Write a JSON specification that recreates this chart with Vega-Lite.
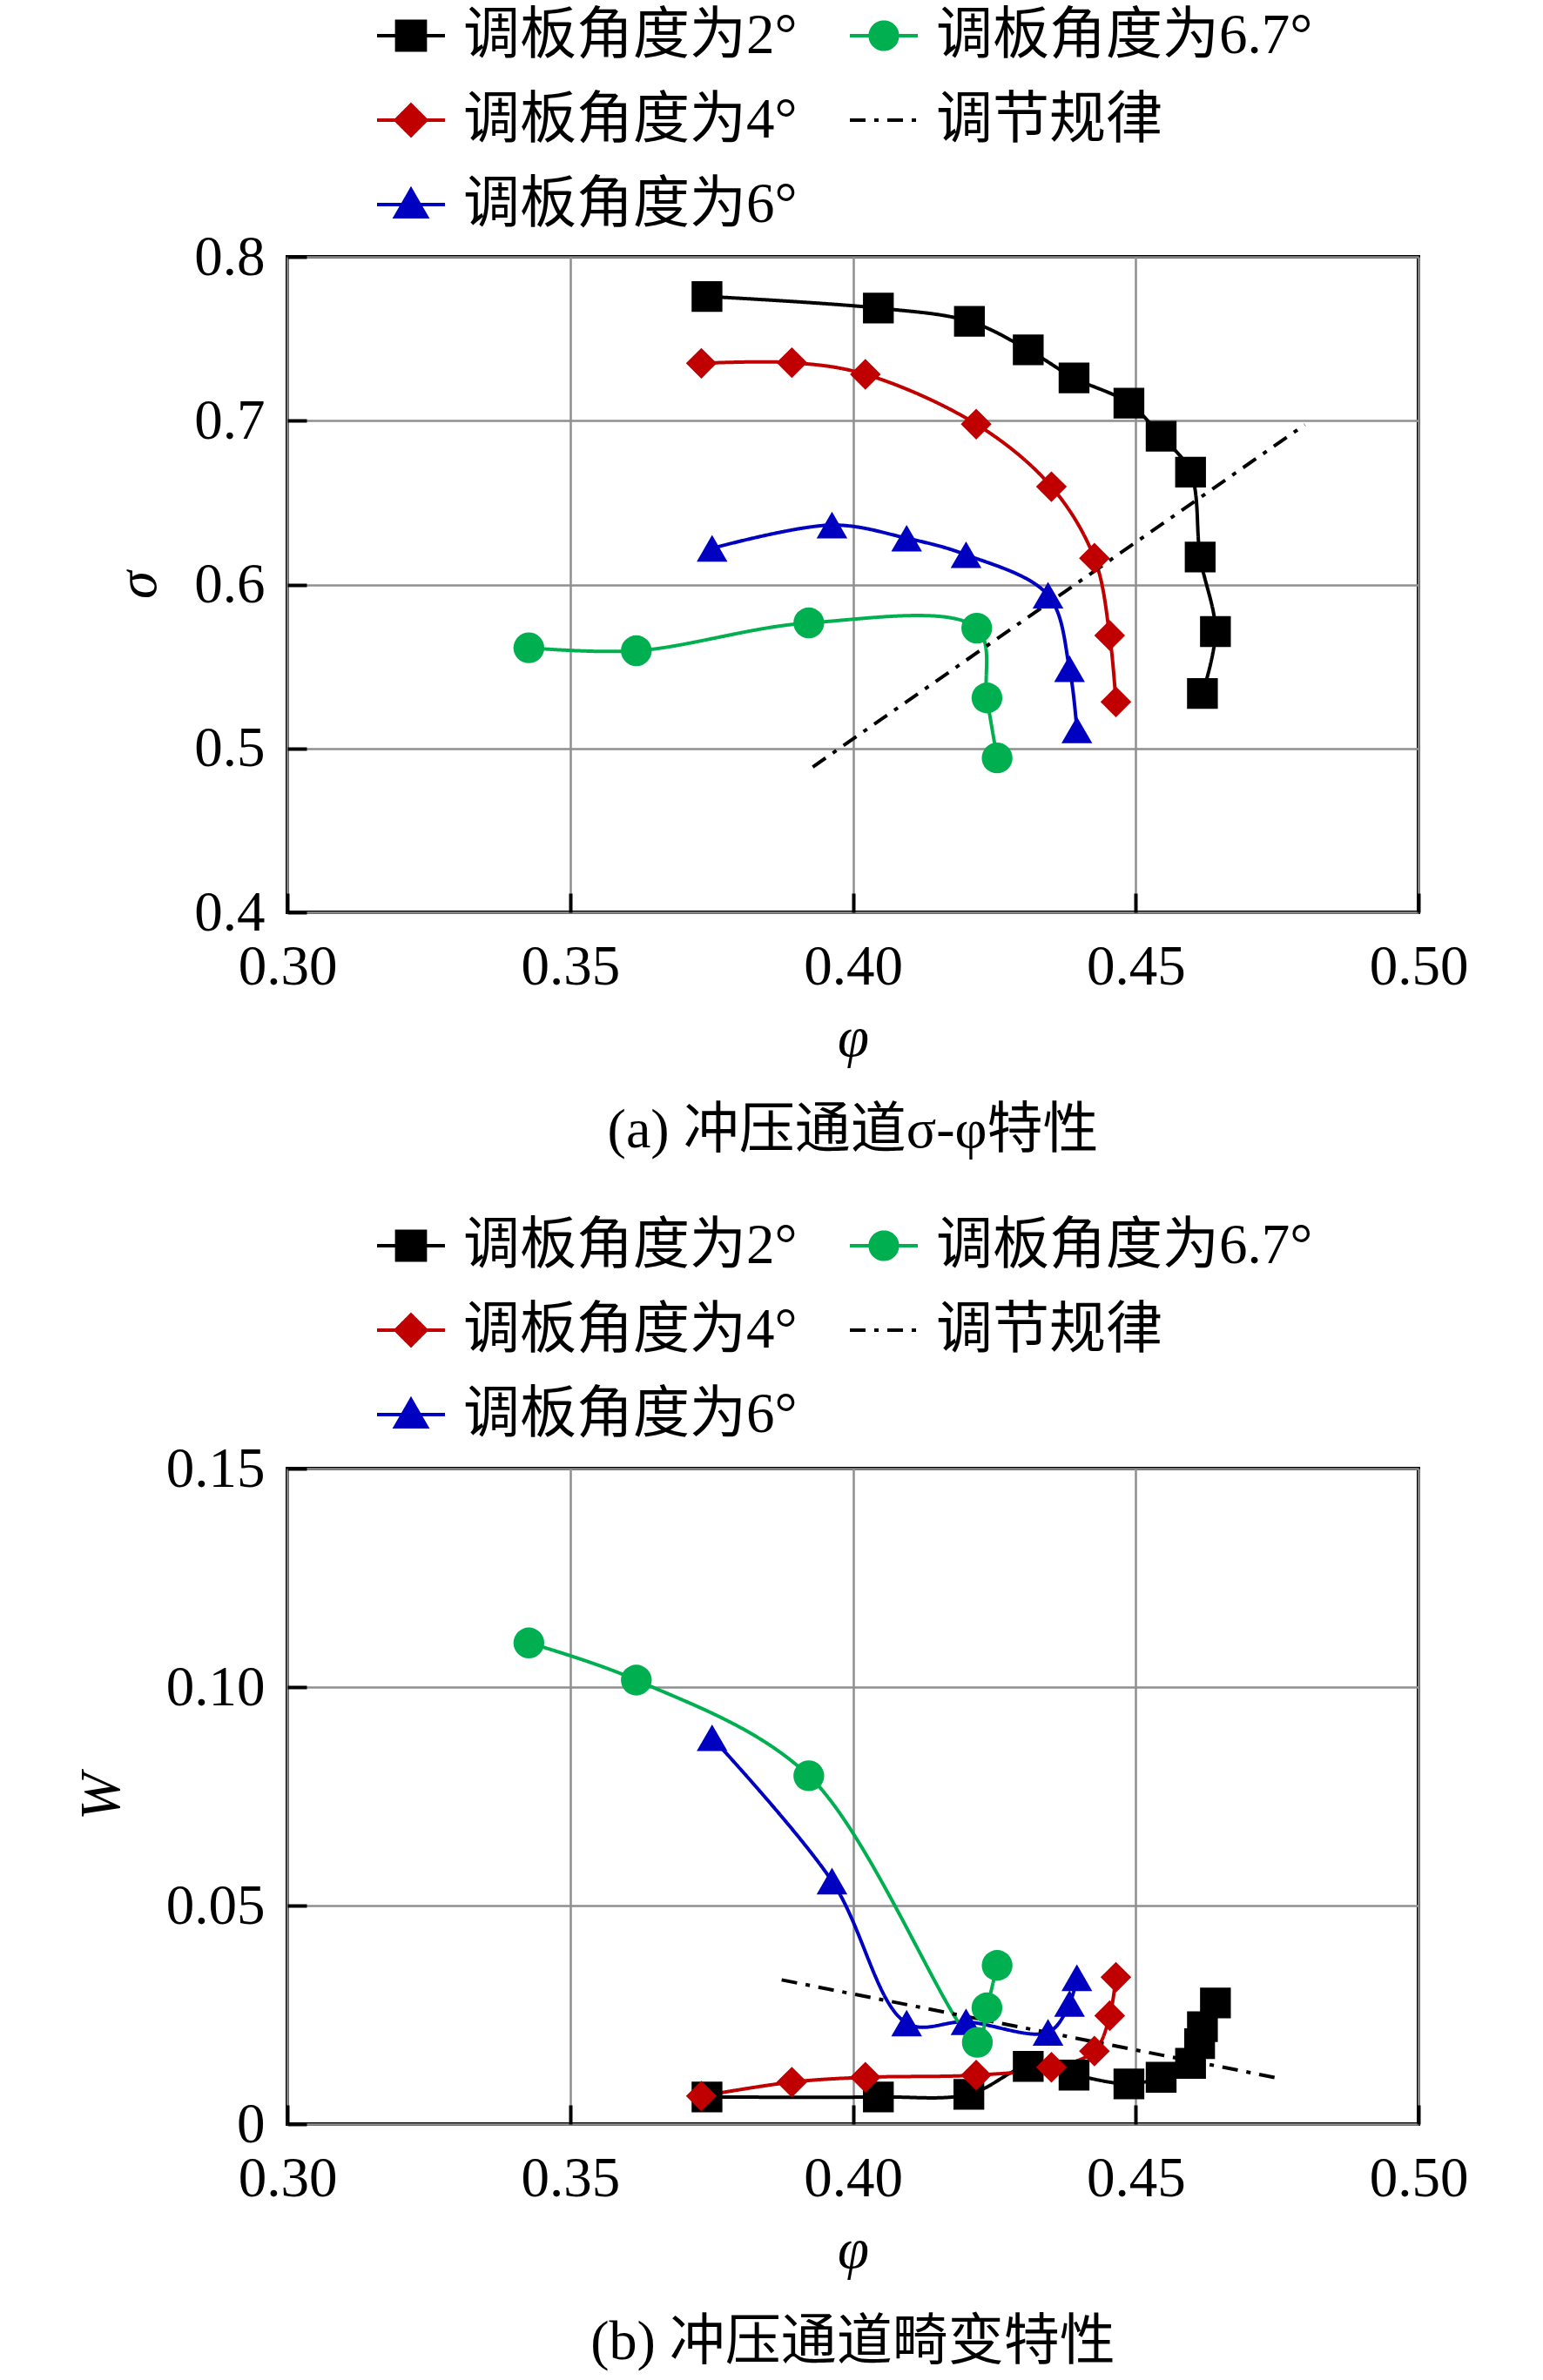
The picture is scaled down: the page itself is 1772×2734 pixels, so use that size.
{
  "$schema": "https://vega.github.io/schema/vega-lite/v6.json",
  "background": "white",
  "padding": {"left": 82, "top": -2, "right": 10, "bottom": 10},
  "datasets": {
    "sigma": [
      {"s": "调板角度为2°", "i": 1, "phi": 0.3742, "v": 0.7758},
      {"s": "调板角度为2°", "i": 2, "phi": 0.4045, "v": 0.7687},
      {"s": "调板角度为2°", "i": 3, "phi": 0.4206, "v": 0.7606},
      {"s": "调板角度为2°", "i": 4, "phi": 0.4310, "v": 0.7432},
      {"s": "调板角度为2°", "i": 5, "phi": 0.4391, "v": 0.7261},
      {"s": "调板角度为2°", "i": 6, "phi": 0.4488, "v": 0.7107},
      {"s": "调板角度为2°", "i": 7, "phi": 0.4545, "v": 0.6905},
      {"s": "调板角度为2°", "i": 8, "phi": 0.4597, "v": 0.6686},
      {"s": "调板角度为2°", "i": 9, "phi": 0.4614, "v": 0.6168},
      {"s": "调板角度为2°", "i": 10, "phi": 0.4641, "v": 0.5713},
      {"s": "调板角度为2°", "i": 11, "phi": 0.4618, "v": 0.5335},
      {"s": "调板角度为4°", "i": 1, "phi": 0.3732, "v": 0.7350},
      {"s": "调板角度为4°", "i": 2, "phi": 0.3892, "v": 0.7354},
      {"s": "调板角度为4°", "i": 3, "phi": 0.4022, "v": 0.7283},
      {"s": "调板角度为4°", "i": 4, "phi": 0.4218, "v": 0.6979},
      {"s": "调板角度为4°", "i": 5, "phi": 0.4351, "v": 0.6597},
      {"s": "调板角度为4°", "i": 6, "phi": 0.4427, "v": 0.6161},
      {"s": "调板角度为4°", "i": 7, "phi": 0.4454, "v": 0.5689},
      {"s": "调板角度为4°", "i": 8, "phi": 0.4465, "v": 0.5284},
      {"s": "调板角度为6°", "i": 1, "phi": 0.3751, "v": 0.6221},
      {"s": "调板角度为6°", "i": 2, "phi": 0.3963, "v": 0.6363},
      {"s": "调板角度为6°", "i": 3, "phi": 0.4095, "v": 0.6283},
      {"s": "调板角度为6°", "i": 4, "phi": 0.4200, "v": 0.6182},
      {"s": "调板角度为6°", "i": 5, "phi": 0.4345, "v": 0.5935},
      {"s": "调板角度为6°", "i": 6, "phi": 0.4383, "v": 0.5487},
      {"s": "调板角度为6°", "i": 7, "phi": 0.4396, "v": 0.5113},
      {"s": "调板角度为6.7°", "i": 1, "phi": 0.3427, "v": 0.5614},
      {"s": "调板角度为6.7°", "i": 2, "phi": 0.3617, "v": 0.5596},
      {"s": "调板角度为6.7°", "i": 3, "phi": 0.3922, "v": 0.5766},
      {"s": "调板角度为6.7°", "i": 4, "phi": 0.4219, "v": 0.5734},
      {"s": "调板角度为6.7°", "i": 5, "phi": 0.4237, "v": 0.5308},
      {"s": "调板角度为6.7°", "i": 6, "phi": 0.4255, "v": 0.4942},
      {"s": "调节规律", "i": 1, "phi": 0.3929, "v": 0.4887},
      {"s": "调节规律", "i": 2, "phi": 0.4799, "v": 0.6975}
    ],
    "w": [
      {"s": "调板角度为2°", "i": 1, "phi": 0.3742, "v": 0.0062},
      {"s": "调板角度为2°", "i": 2, "phi": 0.4045, "v": 0.0062},
      {"s": "调板角度为2°", "i": 3, "phi": 0.4205, "v": 0.0068},
      {"s": "调板角度为2°", "i": 4, "phi": 0.4310, "v": 0.0132},
      {"s": "调板角度为2°", "i": 5, "phi": 0.4391, "v": 0.0112},
      {"s": "调板角度为2°", "i": 6, "phi": 0.4488, "v": 0.0092},
      {"s": "调板角度为2°", "i": 7, "phi": 0.4545, "v": 0.0107},
      {"s": "调板角度为2°", "i": 8, "phi": 0.4597, "v": 0.0139},
      {"s": "调板角度为2°", "i": 9, "phi": 0.4613, "v": 0.0184},
      {"s": "调板角度为2°", "i": 10, "phi": 0.4618, "v": 0.0223},
      {"s": "调板角度为2°", "i": 11, "phi": 0.4641, "v": 0.0277},
      {"s": "调板角度为4°", "i": 1, "phi": 0.3732, "v": 0.0064},
      {"s": "调板角度为4°", "i": 2, "phi": 0.3892, "v": 0.0096},
      {"s": "调板角度为4°", "i": 3, "phi": 0.4022, "v": 0.0107},
      {"s": "调板角度为4°", "i": 4, "phi": 0.4218, "v": 0.0112},
      {"s": "调板角度为4°", "i": 5, "phi": 0.4351, "v": 0.0130},
      {"s": "调板角度为4°", "i": 6, "phi": 0.4427, "v": 0.0167},
      {"s": "调板角度为4°", "i": 7, "phi": 0.4454, "v": 0.0248},
      {"s": "调板角度为4°", "i": 8, "phi": 0.4465, "v": 0.0336},
      {"s": "调板角度为6°", "i": 1, "phi": 0.3751, "v": 0.0884},
      {"s": "调板角度为6°", "i": 2, "phi": 0.3963, "v": 0.0556},
      {"s": "调板角度为6°", "i": 3, "phi": 0.4095, "v": 0.0231},
      {"s": "调板角度为6°", "i": 4, "phi": 0.4200, "v": 0.0234},
      {"s": "调板角度为6°", "i": 5, "phi": 0.4345, "v": 0.0210},
      {"s": "调板角度为6°", "i": 6, "phi": 0.4383, "v": 0.0276},
      {"s": "调板角度为6°", "i": 7, "phi": 0.4396, "v": 0.0335},
      {"s": "调板角度为6.7°", "i": 1, "phi": 0.3427, "v": 0.1101},
      {"s": "调板角度为6.7°", "i": 2, "phi": 0.3617, "v": 0.1016},
      {"s": "调板角度为6.7°", "i": 3, "phi": 0.3922, "v": 0.0797},
      {"s": "调板角度为6.7°", "i": 4, "phi": 0.4220, "v": 0.0187},
      {"s": "调板角度为6.7°", "i": 5, "phi": 0.4237, "v": 0.0266},
      {"s": "调板角度为6.7°", "i": 6, "phi": 0.4255, "v": 0.0363},
      {"s": "调节规律", "i": 1, "phi": 0.3874, "v": 0.0330},
      {"s": "调节规律", "i": 2, "phi": 0.4756, "v": 0.0104}
    ]
  },
  "config": {
    "font": "Liberation Serif, Noto Sans CJK SC",
    "view": {"stroke": "black", "strokeWidth": 4},
    "axis": {
      "domain": false,
      "grid": true,
      "gridColor": "#8f8f8f",
      "gridWidth": 2.5,
      "ticks": true,
      "tickColor": "black",
      "tickWidth": 4,
      "tickSize": -22,
      "labelFont": "Liberation Serif",
      "labelFontSize": 65,
      "labelColor": "black",
      "labelPadding": 48,
      "labelFlush": false,
      "labelOverlap": false,
      "titleFont": "Liberation Serif",
      "titleFontSize": 65,
      "titleFontStyle": "italic",
      "titleFontWeight": "normal",
      "titleColor": "black"
    },
    "axisX": {"labelPadding": 53},
    "legend": {
      "orient": "none",
      "columns": 2,
      "title": null,
      "symbolSize": 6084,
      "symbolStrokeWidth": 4,
      "labelFont": "Liberation Serif, Noto Sans CJK SC",
      "labelFontSize": 65,
      "labelColor": "black",
      "labelOffset": 19,
      "labelLimit": 0,
      "columnPadding": 52,
      "rowPadding": 23
    },
    "title": {
      "orient": "bottom",
      "anchor": "middle",
      "font": "Liberation Serif, Noto Sans CJK SC",
      "fontSize": 64,
      "fontWeight": "normal",
      "color": "black",
      "offset": 42
    }
  },
  "bounds": "flush",
  "spacing": 639,
  "resolve": {
    "scale": {"color": "independent", "shape": "independent", "strokeDash": "independent", "x": "independent", "y": "independent"},
    "legend": {"color": "independent"}
  },
  "vconcat": [
    {
      "width": 1299,
      "height": 753,
      "title": "(a) 冲压通道σ-φ特性",
      "data": {"name": "sigma"},
      "encoding": {
        "x": {"field": "phi", "type": "quantitative", "title": "φ",
          "scale": {"domain": [0.3, 0.5], "nice": false, "zero": false},
          "axis": {"values": [0.3, 0.35, 0.4, 0.45, 0.5], "format": ".2f", "titlePadding": 18}},
        "y": {"field": "v", "type": "quantitative", "title": "σ",
          "scale": {"domain": [0.4, 0.8], "nice": false, "zero": false},
          "axis": {"values": [0.4, 0.5, 0.6, 0.7, 0.8], "format": ".1f", "titlePadding": 30}}
      },
      "layer": [
        {
          "mark": {"type": "line", "interpolate": "catmull-rom", "strokeWidth": 4},
          "encoding": {
            "order": {"field": "i", "type": "quantitative"},
            "color": {"field": "s", "type": "nominal",
              "scale": {"domain": ["调板角度为2°", "调板角度为4°", "调板角度为6°", "调板角度为6.7°", "调节规律"],
                "range": ["#000000", "#c00000", "#0000c0", "#00b050", "#000000"]},
              "legend": {
                "orient": "none", "legendX": 101, "legendY": -295, "columns": 2,
                "encode": {"symbols": {"update": {
                  "shape": {"signal": "datum.value === '调板角度为2°' ? 'M-1,0H1M-0.42,-0.42H0.42V0.42H-0.42Z' : datum.value === '调板角度为4°' ? 'M-1,0H1M-0.45,0L0,-0.45L0.45,0L0,0.45Z' : datum.value === '调板角度为6°' ? 'M-1,0H1M0,-0.44L0.46,0.36H-0.46Z' : datum.value === '调板角度为6.7°' ? 'M-1,0H1M-0.4,0A0.4,0.4 0 1,0 0.4,0A0.4,0.4 0 1,0 -0.4,0Z' : 'M-1,0H1'"},
                  "fill": {"signal": "datum.value === '调板角度为4°' ? '#c00000' : datum.value === '调板角度为6°' ? '#0000c0' : datum.value === '调板角度为6.7°' ? '#00b050' : '#000000'"},
                  "stroke": {"signal": "datum.value === '调板角度为4°' ? '#c00000' : datum.value === '调板角度为6°' ? '#0000c0' : datum.value === '调板角度为6.7°' ? '#00b050' : '#000000'"},
                  "strokeDash": {"signal": "datum.value === '调节规律' ? [18, 10, 5, 10] : [1, 0]"},
                  "strokeWidth": {"value": 4},
                  "opacity": {"value": 1}
                }}}
              }},
            "strokeDash": {"field": "s", "type": "nominal", "legend": null,
              "scale": {"domain": ["调板角度为2°", "调板角度为4°", "调板角度为6°", "调板角度为6.7°", "调节规律"],
                "range": [[1, 0], [1, 0], [1, 0], [1, 0], [18, 10, 5, 10]]}}
          }
        },
        {
          "transform": [{"filter": "datum.s !== '调节规律'"}],
          "mark": {"type": "point", "filled": true, "size": 1250, "opacity": 1},
          "encoding": {
            "color": {"field": "s", "type": "nominal"},
            "shape": {"field": "s", "type": "nominal", "legend": null,
              "scale": {"domain": ["调板角度为2°", "调板角度为4°", "调板角度为6°", "调板角度为6.7°"],
                "range": ["square", "diamond", "triangle-up", "circle"]}}
          }
        }
      ]
    },
    {
      "width": 1299,
      "height": 753,
      "title": "(b) 冲压通道畸变特性",
      "data": {"name": "w"},
      "encoding": {
        "x": {"field": "phi", "type": "quantitative", "title": "φ",
          "scale": {"domain": [0.3, 0.5], "nice": false, "zero": false},
          "axis": {"values": [0.3, 0.35, 0.4, 0.45, 0.5], "format": ".2f", "titlePadding": 18}},
        "y": {"field": "v", "type": "quantitative", "title": "W",
          "scale": {"domain": [0, 0.15], "nice": false, "zero": false},
          "axis": {"values": [0, 0.05, 0.1, 0.15], "labelExpr": "datum.value === 0 ? '0' : format(datum.value, '.2f')", "titlePadding": 40}}
      },
      "layer": [
        {
          "mark": {"type": "line", "interpolate": "catmull-rom", "strokeWidth": 4},
          "encoding": {
            "order": {"field": "i", "type": "quantitative"},
            "color": {"field": "s", "type": "nominal",
              "scale": {"domain": ["调板角度为2°", "调板角度为4°", "调板角度为6°", "调板角度为6.7°", "调节规律"],
                "range": ["#000000", "#c00000", "#0000c0", "#00b050", "#000000"]},
              "legend": {
                "orient": "none", "legendX": 101, "legendY": -297, "columns": 2,
                "encode": {"symbols": {"update": {
                  "shape": {"signal": "datum.value === '调板角度为2°' ? 'M-1,0H1M-0.42,-0.42H0.42V0.42H-0.42Z' : datum.value === '调板角度为4°' ? 'M-1,0H1M-0.45,0L0,-0.45L0.45,0L0,0.45Z' : datum.value === '调板角度为6°' ? 'M-1,0H1M0,-0.44L0.46,0.36H-0.46Z' : datum.value === '调板角度为6.7°' ? 'M-1,0H1M-0.4,0A0.4,0.4 0 1,0 0.4,0A0.4,0.4 0 1,0 -0.4,0Z' : 'M-1,0H1'"},
                  "fill": {"signal": "datum.value === '调板角度为4°' ? '#c00000' : datum.value === '调板角度为6°' ? '#0000c0' : datum.value === '调板角度为6.7°' ? '#00b050' : '#000000'"},
                  "stroke": {"signal": "datum.value === '调板角度为4°' ? '#c00000' : datum.value === '调板角度为6°' ? '#0000c0' : datum.value === '调板角度为6.7°' ? '#00b050' : '#000000'"},
                  "strokeDash": {"signal": "datum.value === '调节规律' ? [18, 10, 5, 10] : [1, 0]"},
                  "strokeWidth": {"value": 4},
                  "opacity": {"value": 1}
                }}}
              }},
            "strokeDash": {"field": "s", "type": "nominal", "legend": null,
              "scale": {"domain": ["调板角度为2°", "调板角度为4°", "调板角度为6°", "调板角度为6.7°", "调节规律"],
                "range": [[1, 0], [1, 0], [1, 0], [1, 0], [18, 10, 5, 10]]}}
          }
        },
        {
          "transform": [{"filter": "datum.s !== '调节规律'"}],
          "mark": {"type": "point", "filled": true, "size": 1250, "opacity": 1},
          "encoding": {
            "color": {"field": "s", "type": "nominal"},
            "shape": {"field": "s", "type": "nominal", "legend": null,
              "scale": {"domain": ["调板角度为2°", "调板角度为4°", "调板角度为6°", "调板角度为6.7°"],
                "range": ["square", "diamond", "triangle-up", "circle"]}}
          }
        }
      ]
    }
  ]
}
